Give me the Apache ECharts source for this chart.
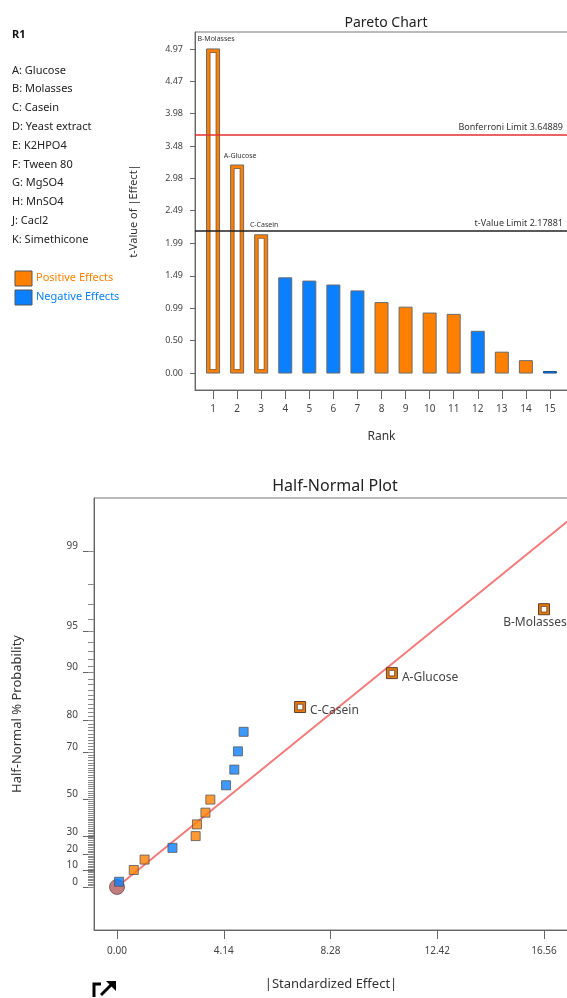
<!DOCTYPE html>
<html>
<head>
<meta charset="utf-8">
<title>Pareto / Half-Normal</title>
<script src="https://cdn.jsdelivr.net/npm/echarts@6/dist/echarts.min.js"></script>
<style>
  html, body { margin: 0; padding: 0; background: #fff; }
  #chart { width: 567px; height: 998px; }
</style>
</head>
<body>
<div id="chart"></div>
<script>
// ---- data ----
const factorNames = ['A: Glucose', 'B: Molasses', 'C: Casein', 'D: Yeast extract', 'E: K2HPO4',
  'F: Tween 80', 'G: MgSO4', 'H: MnSO4', 'J: Cacl2', 'K: Simethicone']

// Pareto chart (rank -> t-value of |effect|)
const paretoRanks = [1, 2, 3, 4, 5, 6, 7, 8, 9, 10, 11, 12, 13, 14, 15]
const paretoValues = [4.97, 3.19, 2.12, 1.46, 1.41, 1.35, 1.26, 1.08, 1.01, 0.92, 0.90, 0.64, 0.32, 0.19, 0.02]
const paretoKinds = ['hollow', 'hollow', 'hollow', 'neg', 'neg', 'neg', 'neg', 'pos', 'pos', 'pos', 'pos', 'neg', 'pos', 'pos', 'neg']
const paretoNames = ['B-Molasses', 'A-Glucose', 'C-Casein', '', '', '', '', '', '', '', '', '', '', '', '']
const paretoTickLabels = ['0.00', '0.50', '0.99', '1.49', '1.99', '2.49', '2.98', '3.48', '3.98', '4.47', '4.97']
const bonferroniLimit = 3.64889
const tValueLimit = 2.17881

// Half-normal plot (|standardized effect|, normal quantile of the plotting position)
const effectX = [0.08, 0.65, 1.07, 2.15, 3.05, 3.10, 3.43, 3.62, 4.23, 4.55, 4.69, 4.91, 7.10, 10.66, 16.56]
const effectZ = [0.04, 0.13, 0.21, 0.30, 0.39, 0.48, 0.57, 0.67, 0.78, 0.90, 1.04, 1.19, 1.38, 1.64, 2.13]
const effectKinds = ['neg', 'pos', 'pos', 'neg', 'pos', 'pos', 'pos', 'pos', 'neg', 'neg', 'neg', 'neg', 'hollow', 'hollow', 'hollow']
const effectNames = ['', '', '', '', '', '', '', '', '', '', '', '', 'C-Casein', 'A-Glucose', 'B-Molasses']
const fitLine = [[0, 0], [17.6, 2.825]]
const xTickLabels = ['0.00', '4.14', '8.28', '12.42', '16.56']
const probLabels = ['0', '10', '20', '30', '50', '70', '80', '90', '95', '99']

const ORANGE = '#ff8000'
const BLUE = '#0a80ff'
const FONT = 'Noto Sans'
const HN_XMIN = -0.892

// inverse normal cdf (Acklam) - used only to place the probability axis ticks
function invNorm(p) {
  const a = [-39.69683028665376, 220.9460984245205, -275.9285104469687, 138.357751867269, -30.66479806614716, 2.506628277459239]
  const b = [-54.47609879822406, 161.5858368580409, -155.6989798598866, 66.80131188771972, -13.28068155288572]
  const c = [-0.007784894002430293, -0.3223964580411365, -2.400758277161838, -2.549732539343734, 4.374664141464968, 2.938163982698783]
  const d = [0.007784695709041462, 0.3224671290700398, 2.445134137142996, 3.754408661907416]
  const pl = 0.02425
  let q, r
  if (p < pl) {
    q = Math.sqrt(-2 * Math.log(p))
    return (((((c[0] * q + c[1]) * q + c[2]) * q + c[3]) * q + c[4]) * q + c[5]) / ((((d[0] * q + d[1]) * q + d[2]) * q + d[3]) * q + 1)
  }
  if (p <= 1 - pl) {
    q = p - 0.5
    r = q * q
    return (((((a[0] * r + a[1]) * r + a[2]) * r + a[3]) * r + a[4]) * r + a[5]) * q / (((((b[0] * r + b[1]) * r + b[2]) * r + b[3]) * r + b[4]) * r + 1)
  }
  q = Math.sqrt(-2 * Math.log(1 - p))
  return -(((((c[0] * q + c[1]) * q + c[2]) * q + c[3]) * q + c[4]) * q + c[5]) / ((((d[0] * q + d[1]) * q + d[2]) * q + d[3]) * q + 1)
}
const halfZ = pct => invNorm(0.5 + pct / 200)

const paretoTickVals = paretoTickLabels.map(Number)
const probMajorZ = probLabels.map(p => halfZ(Number(p)))
const probMinorZ = []
for (let i = 0; i < 100; i++) probMinorZ.push(halfZ(i))
const xTickVals = xTickLabels.map(Number)

function fillOf(kind) {
  return kind === 'neg' ? BLUE : ORANGE
}

// pareto bars, hollow ones drawn as orange frame with white core
function renderParetoBar(params, api) {
  const i = params.dataIndex
  const top = api.coord([api.value(0), api.value(1)])
  const base = api.coord([api.value(0), 0])
  const w = 13
  const x = top[0] - w / 2
  const h = Math.max(base[1] - top[1], 1.5)
  const kids = [{
    type: 'rect',
    shape: { x: x, y: base[1] - h, width: w, height: h },
    style: { fill: fillOf(paretoKinds[i]), stroke: paretoKinds[i] === 'neg' && h < 3 ? '#1d4f86' : '#6a6a6a', lineWidth: 1 }
  }]
  if (paretoKinds[i] === 'hollow') {
    kids.push({
      type: 'rect',
      shape: { x: x + 3.5, y: base[1] - h + 3.5, width: w - 7, height: h - 7 },
      style: { fill: '#fff', stroke: '#7a5030', lineWidth: 0.8 }
    })
  }
  if (paretoNames[i]) {
    kids.push({
      type: 'text',
      style: { text: paretoNames[i], x: top[0] + 3, y: top[1] - 6, align: 'center', verticalAlign: 'bottom', fontSize: 7, fontFamily: FONT, fill: '#333' }
    })
  }
  return { type: 'group', children: kids }
}

// hollow squares in the half-normal plot with their names
const labelSide = { 'C-Casein': 'right', 'A-Glucose': 'right', 'B-Molasses': 'bottom' }
function renderHollow(params, api) {
  const p = api.coord([api.value(0), api.value(1)])
  const s = 11
  const name = effectNames[api.value(2)]
  const side = labelSide[name]
  return {
    type: 'group',
    children: [
      { type: 'rect', shape: { x: p[0] - s / 2, y: p[1] - s / 2, width: s, height: s }, style: { fill: '#e87a0c', stroke: '#5c4030', lineWidth: 1 } },
      { type: 'rect', shape: { x: p[0] - 2.8, y: p[1] - 2.8, width: 5.6, height: 5.6 }, style: { fill: '#fff', stroke: '#5c4030', lineWidth: 0.8 } },
      {
        type: 'text',
        style: side === 'right'
          ? { text: name, x: p[0] + 10, y: p[1] + 4, align: 'left', verticalAlign: 'middle', fontSize: 12, fontFamily: FONT, fill: '#444' }
          : { text: name, x: p[0] - 9, y: p[1] + 7, align: 'center', verticalAlign: 'top', fontSize: 12, fontFamily: FONT, fill: '#444' }
      }
    ]
  }
}

// small ticks at every whole percent on the probability axis
function renderMinorTick(params, api) {
  const p = api.coord([HN_XMIN, api.value(0)])
  const y = Math.round(p[1]) + 0.5
  return {
    type: 'line',
    shape: { x1: p[0] - 6, y1: y, x2: p[0], y2: y },
    style: { stroke: '#8a8a8a', lineWidth: 1 }
  }
}

const myChart = echarts.init(document.getElementById('chart'))

const graphicEls = [
  { type: 'text', left: 12, top: 29, style: { text: 'R1', font: 'bold 11px ' + FONT, fill: '#111' } }
]
factorNames.forEach((n, i) => {
  graphicEls.push({ type: 'text', left: 12, top: 65 + i * 18.8, style: { text: n, font: '11px ' + FONT, fill: '#222' } })
})
graphicEls.push(
  { type: 'rect', shape: { x: 15, y: 271, width: 17, height: 15 }, style: { fill: ORANGE, stroke: '#555', lineWidth: 1 } },
  { type: 'text', left: 36, top: 272, style: { text: 'Positive Effects', font: '11px ' + FONT, fill: ORANGE } },
  { type: 'rect', shape: { x: 15, y: 290, width: 17, height: 15 }, style: { fill: BLUE, stroke: '#555', lineWidth: 1 } },
  { type: 'text', left: 36, top: 291, style: { text: 'Negative Effects', font: '11px ' + FONT, fill: BLUE } },
  // expand icon under the plot
  { type: 'polyline', shape: { points: [[94, 997], [94, 984], [101, 984]] }, style: { stroke: '#000', lineWidth: 3, fill: null } },
  { type: 'line', shape: { x1: 101, y1: 995, x2: 111, y2: 985 }, style: { stroke: '#000', lineWidth: 3 } },
  { type: 'polygon', shape: { points: [[106, 981], [116, 981], [116, 991]] }, style: { fill: '#000' } }
)

const option = {
  animation: false,
  textStyle: { fontFamily: FONT },
  title: [
    { text: 'Pareto Chart', left: 381, top: 11, textAlign: 'center', textStyle: { fontSize: 14, fontWeight: 'normal', color: '#222', fontFamily: FONT } },
    { text: 'Half-Normal Plot', left: 330, top: 473, textAlign: 'center', textStyle: { fontSize: 16, fontWeight: 'normal', color: '#222', fontFamily: FONT } }
  ],
  graphic: graphicEls,
  grid: [
    { left: 195, top: 32, width: 373, height: 358, show: true, borderColor: '#777', borderWidth: 1, outerBoundsMode: 'none', containLabel: false },
    { left: 94, top: 498, width: 474, height: 432, show: true, borderColor: '#777', borderWidth: 1, outerBoundsMode: 'none', containLabel: false }
  ],
  xAxis: [
    {
      gridIndex: 0, type: 'value', min: 0.25, max: 15.75, position: 'bottom',
      name: 'Rank', nameLocation: 'middle', nameGap: 41,
      nameTextStyle: { fontSize: 12, color: '#333' },
      axisLine: { onZero: false, lineStyle: { color: '#666' } },
      axisTick: { customValues: paretoRanks, length: 9, lineStyle: { color: '#666' } },
      axisLabel: { customValues: paretoRanks, fontSize: 10, color: '#444', margin: 14 },
      splitLine: { show: false }
    },
    {
      gridIndex: 1, type: 'value', min: HN_XMIN, max: 17.49, position: 'bottom',
      name: '|Standardized Effect|', nameLocation: 'middle', nameGap: 48,
      nameTextStyle: { fontSize: 13, color: '#333' },
      axisLine: { onZero: false, lineStyle: { color: '#666' } },
      axisTick: { customValues: xTickVals, length: 9, lineStyle: { color: '#666' } },
      axisLabel: { customValues: xTickVals, fontSize: 10, color: '#444', margin: 16, formatter: v => v.toFixed(2) },
      splitLine: { show: false }
    }
  ],
  yAxis: [
    {
      gridIndex: 0, type: 'value', min: -0.26, max: 5.23, position: 'left',
      name: 't-Value of |Effect|', nameLocation: 'middle', nameGap: 56,
      nameTextStyle: { fontSize: 11, color: '#333' },
      axisLine: { show: true, onZero: false, lineStyle: { color: '#666' } },
      axisTick: { customValues: paretoTickVals, length: 5, lineStyle: { color: '#666' } },
      axisLabel: { customValues: paretoTickVals, fontSize: 9, color: '#444', margin: 12, formatter: v => v.toFixed(2) },
      splitLine: { show: false }
    },
    {
      gridIndex: 1, type: 'value', min: -0.33, max: 2.983, position: 'left', offset: 0,
      name: 'Half-Normal % Probability', nameLocation: 'middle', nameGap: 70,
      nameTextStyle: { fontSize: 13, color: '#333' },
      axisLine: { show: true, onZero: false, lineStyle: { color: '#666' } },
      axisTick: { show: true, customValues: probMajorZ, length: 11, lineStyle: { color: '#666' } },
      axisLabel: {
        customValues: probMajorZ, fontSize: 10, color: '#444', margin: 16, verticalAlign: 'bottom',
        formatter: v => {
          let k = 0
          probMajorZ.forEach((z, i) => { if (Math.abs(z - v) < Math.abs(probMajorZ[k] - v)) k = i })
          return probLabels[k]
        }
      },
      splitLine: { show: false }
    }
  ],
  series: [
    {
      type: 'custom', xAxisIndex: 0, yAxisIndex: 0,
      renderItem: renderParetoBar,
      encode: { x: 0, y: 1 },
      data: paretoRanks.map((r, i) => [r, paretoValues[i]]),
      z: 3
    },
    {
      type: 'line', xAxisIndex: 0, yAxisIndex: 0, data: [], silent: true,
      markLine: {
        symbol: 'none', silent: true,
        data: [
          { yAxis: bonferroniLimit, lineStyle: { color: '#e53030', width: 1.5, type: 'solid' },
            label: { formatter: 'Bonferroni Limit ' + bonferroniLimit, position: 'insideEndTop', fontSize: 9, color: '#333', distance: [5, 3] } },
          { yAxis: tValueLimit, lineStyle: { color: '#222', width: 1.5, type: 'solid' },
            label: { formatter: 't-Value Limit ' + tValueLimit, position: 'insideEndTop', fontSize: 9, color: '#333', distance: [5, 3] } }
        ]
      },
      z: 2
    },
    {
      type: 'custom', xAxisIndex: 1, yAxisIndex: 1, silent: true,
      renderItem: renderMinorTick,
      encode: { y: 0 },
      data: probMinorZ.map(z => [z]),
      z: 1
    },
    {
      type: 'scatter', xAxisIndex: 1, yAxisIndex: 1,
      symbol: 'circle', symbolSize: 15,
      itemStyle: { color: '#b85a5c', borderColor: '#555', borderWidth: 1 },
      data: [[0, 0]], z: 2
    },
    {
      type: 'line', xAxisIndex: 1, yAxisIndex: 1,
      data: fitLine, symbol: 'none', clip: true,
      lineStyle: { color: '#f47a7a', width: 2 }, z: 3
    },
    {
      type: 'scatter', xAxisIndex: 1, yAxisIndex: 1,
      symbol: 'rect', symbolSize: 9,
      itemStyle: { borderColor: '#555', borderWidth: 1 },
      data: effectX.map((x, i) => ({ value: [x, effectZ[i]], itemStyle: { color: fillOf(effectKinds[i]) } }))
        .filter((d, i) => effectKinds[i] !== 'hollow'),
      z: 4
    },
    {
      type: 'custom', xAxisIndex: 1, yAxisIndex: 1,
      renderItem: renderHollow,
      encode: { x: 0, y: 1 },
      data: effectX.map((x, i) => [x, effectZ[i], i]).filter((d, i) => effectKinds[i] === 'hollow'),
      z: 5
    }
  ]
}
myChart.setOption(option)
</script>
</body>
</html>
